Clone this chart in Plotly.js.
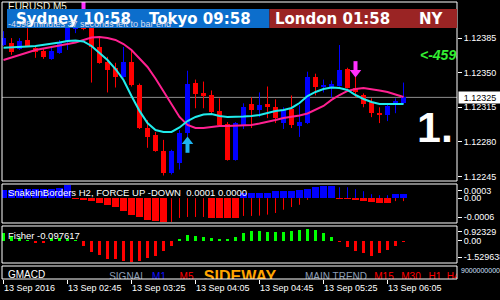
<!DOCTYPE html>
<html><head><meta charset="utf-8">
<script src="https://cdn.plot.ly/plotly-3.0.1.min.js"></script>
<style>html,body{margin:0;padding:0;background:#000;}#chart{width:500px;height:300px;}</style>
</head><body><div id="chart"></div>
<script>
// ---- data (EURUSD M5) ----
const openP  = [1.12378,1.12380,1.12374,1.12383,1.12375,1.12372,1.12364,1.12370,1.12381,1.12394,
                1.12399,1.12397,1.12376,1.12361,1.12355,1.12346,1.12361,1.12338,1.12294,1.12287,
                1.12271,1.12248,1.12259,1.12289,1.12340,1.12329,1.12327,1.12311,1.12298,1.12262,
                1.12297,1.12318,1.12312,1.12318,1.12315,1.12299,1.12313,1.12296,1.12299,1.12346,
                1.12336,1.12336,1.12337,1.12354,1.12335,1.12327,1.12320,1.12309,1.12307,1.12318,1.12319];
const highP  = [1.12392,1.12385,1.12385,1.12395,1.12376,1.12375,1.12375,1.12383,1.12408,1.12405,
                1.12403,1.12405,1.12385,1.12366,1.12360,1.12376,1.12373,1.12339,1.12302,1.12290,
                1.12282,1.12272,1.12292,1.12352,1.12343,1.12341,1.12332,1.12324,1.12300,1.12300,
                1.12319,1.12325,1.12330,1.12336,1.12323,1.12315,1.12327,1.12317,1.12351,1.12349,
                1.12343,1.12342,1.12378,1.12355,1.12348,1.12329,1.12324,1.12315,1.12319,1.12324,1.12340];
const lowP   = [1.12377,1.12368,1.12373,1.12376,1.12365,1.12364,1.12363,1.12369,1.12373,1.12390,
                1.12393,1.12340,1.12359,1.12330,1.12335,1.12345,1.12336,1.12293,1.12274,1.12270,
                1.12246,1.12247,1.12252,1.12285,1.12314,1.12314,1.12309,1.12296,1.12261,1.12261,
                1.12293,1.12294,1.12305,1.12304,1.12299,1.12293,1.12294,1.12285,1.12298,1.12327,
                1.12330,1.12325,1.12336,1.12334,1.12325,1.12315,1.12305,1.12299,1.12301,1.12309,1.12318];
const closeP = [1.12385,1.12371,1.12382,1.12377,1.12371,1.12366,1.12372,1.12380,1.12399,1.12396,
                1.12394,1.12376,1.12360,1.12353,1.12346,1.12361,1.12338,1.12294,1.12285,1.12271,
                1.12248,1.12271,1.12289,1.12339,1.12328,1.12326,1.12310,1.12297,1.12262,1.12299,
                1.12315,1.12312,1.12317,1.12315,1.12304,1.12312,1.12297,1.12300,1.12346,1.12336,
                1.12338,1.12339,1.12353,1.12335,1.12330,1.12318,1.12309,1.12307,1.12316,1.12321,1.12325];
const maFast = [1.123753,1.123755,1.123760,1.123765,1.123770,1.123780,1.123790,1.123806,1.123821,1.123826,
                1.123816,1.123770,1.123699,1.123628,1.123537,1.123426,1.123264,1.123113,1.122991,1.122920,
                1.122900,1.122900,1.122946,1.123011,1.123052,1.123077,1.123082,1.123062,1.123052,1.123052,
                1.123057,1.123062,1.123072,1.123092,1.123113,1.123123,1.123143,1.123193,1.123264,1.123305,
                1.123335,1.123350,1.123345,1.123325,1.123274,1.123234,1.123204,1.123183,1.123183,1.123183,1.123183];
const maSlow = [1.123628,1.123654,1.123679,1.123704,1.123730,1.123745,1.123760,1.123770,1.123785,1.123806,
                1.123831,1.123856,1.123861,1.123851,1.123831,1.123790,1.123730,1.123649,1.123558,1.123441,
                1.123315,1.123183,1.123052,1.122971,1.122941,1.122941,1.122951,1.122961,1.122961,1.122966,
                1.122971,1.122971,1.122986,1.123001,1.123022,1.123042,1.123052,1.123067,1.123087,1.123123,
                1.123163,1.123224,1.123274,1.123315,1.123335,1.123345,1.123335,1.123320,1.123305,1.123279,1.123254];
const snakeForce = [0.000185,0.000185,0.000208,0.000208,0.000208,0.000208,0.000208,0.000231,0.000300,-0.000023,
                -0.000046,-0.000069,-0.000115,-0.000162,-0.000208,-0.000300,-0.000392,-0.000439,-0.000508,-0.000531,
                -0.000565,0,0,0,0,0,-0.000462,-0.000462,-0.000462,-0.000462,
                0.000115,0.000115,0.000115,0.000115,0.000162,0.000162,0.000173,0.000196,0.000219,0.000254,
                0.000277,0.000289,-0.000023,-0.000023,-0.000046,-0.000069,-0.000081,-0.000115,-0.000115,0.000092,0.000092];
const snakeLine = [0,0,0,0,0,0,0,0,0,0,
                0,0,0,0,0,0,0,0,0,0,
                0,-0.000554,-0.000462,-0.000439,-0.000439,-0.000439,-0.000415,-0.000415,-0.000415,-0.000415,
                -0.000415,-0.000415,-0.000408,-0.000385,-0.000346,-0.000270,-0.000208,-0.000155,-0.000039,0,
                0,0,0.000254,0.000254,0.000208,0.000162,0.000092,0.000069,0.000069,-0.000069,-0.000069];
const fisher = [0.53,0.33,0.20,0.07,-0.13,-0.12,0.20,0.19,0.13,0.07,
                -0.33,-0.73,-0.93,-1.19,-1.21,-1.33,-1.40,-1.36,-1.16,-0.99,
                -0.66,-0.33,0.13,0.40,0.33,0.27,0.20,0.13,0.13,0.27,
                0.53,0.66,0.66,0.60,0.60,0.60,0.66,0.73,0.80,0.73,
                0.53,0.27,-0.07,-0.40,-0.66,-0.80,-0.99,-0.80,-0.60,-0.33,-0.097617];
const sellIdx = [10, 44];
const sellPrice = [1.124114, 1.123502];
const buyIdx = [23];
const buyPrice = [1.122804];
const tickIdx = [0, 8, 16, 24, 32, 40, 48];
const tickLabels = ['13 Sep 2016','13 Sep 02:45','13 Sep 03:25','13 Sep 04:05','13 Sep 04:45','13 Sep 05:25','13 Sep 06:05'];
const priceTicks = [1.12385, 1.12350, 1.12315, 1.12280, 1.12245];
const lastPrice = 1.12325;
const snakeTickPos = [0.000167, 0, -0.000447];
const snakeTickText = ['0.0003', '0.00', '-0.0006'];
const fisherTickPos = [0.617, 0, -1.082];
const fisherTickText = ['0.92329', '0.00', '-1.529638'];
const gmacdLabels = ['SIGNAL','M1','M5','SIDEWAY','MAIN TREND','M15','M30','H1','H4'];
const gmacdLabelPos = [15.5, 19.44, 22.88, 29.56, 41.56, 47.56, 50.94, 53.94, 56.2];

// ---- build ----
const N = closeP.length;
const idx = Array.from({length: N}, (_, i) => i);
const BLUE = '#0000ff', RED = '#ff0000', GREEN = '#00ff00';
const bull = idx.map(i => closeP[i] >= openP[i]);
function segs(sel, lo, hi, ax) {
  const x = [], y = [];
  idx.forEach(i => { if (sel(i)) { x.push(i, i, null); y.push(lo(i), hi(i), null); } });
  return {x, y, type: 'scatter', mode: 'lines', yaxis: ax, hoverinfo: 'skip'};
}
const traces = [];
// wicks
traces.push(Object.assign(segs(i => bull[i], i => lowP[i], i => highP[i], 'y'), {line: {color: BLUE, width: 1}}));
traces.push(Object.assign(segs(i => !bull[i], i => lowP[i], i => highP[i], 'y'), {line: {color: RED, width: 1}}));
// bodies
traces.push({type: 'bar', x: idx, base: idx.map(i => Math.min(openP[i], closeP[i])),
  y: idx.map(i => Math.max(Math.abs(closeP[i] - openP[i]), 0.000012)),
  width: 0.6, marker: {color: idx.map(i => bull[i] ? BLUE : RED), line: {width: 0}}, yaxis: 'y', hoverinfo: 'skip'});
// moving averages
traces.push({type: 'scatter', mode: 'lines', x: idx, y: maSlow, line: {color: '#ff2090', width: 2}, yaxis: 'y', hoverinfo: 'skip'});
traces.push({type: 'scatter', mode: 'lines', x: idx, y: maFast, line: {color: '#20ecec', width: 2}, yaxis: 'y', hoverinfo: 'skip'});
// signal arrows
const SH = 0.000065;
traces.push({type: 'scatter', mode: 'markers', x: sellIdx, y: sellPrice.map(p => p + SH), marker: {symbol: 'line-ns', size: 7, line: {color: '#ff30ff', width: 4}}, yaxis: 'y', hoverinfo: 'skip'});
traces.push({type: 'scatter', mode: 'markers', x: sellIdx, y: sellPrice, marker: {symbol: 'triangle-down', size: 10, color: '#ff30ff', line: {width: 0}}, yaxis: 'y', hoverinfo: 'skip'});
traces.push({type: 'scatter', mode: 'markers', x: buyIdx, y: buyPrice.map(p => p - SH), marker: {symbol: 'line-ns', size: 7, line: {color: '#1eb4f0', width: 4}}, yaxis: 'y', hoverinfo: 'skip'});
traces.push({type: 'scatter', mode: 'markers', x: buyIdx, y: buyPrice, marker: {symbol: 'triangle-up', size: 10, color: '#1eb4f0', line: {width: 0}}, yaxis: 'y', hoverinfo: 'skip'});
// texts inside main chart (clipped by the plot area)
traces.push({type: 'scatter', mode: 'text', x: [0.56], y: [1.12416], text: ['EURUSD,M5'], textposition: 'middle right',
  textfont: {family: 'Liberation Sans', size: 10, color: '#f4f0dc'}, yaxis: 'y', hoverinfo: 'skip'});
traces.push({type: 'scatter', mode: 'text', x: [51.69], y: [1.12291], text: ['1.'], textposition: 'middle right',
  textfont: {family: 'Liberation Sans', size: 43, color: '#ffffff', weight: 'bold'}, yaxis: 'y', hoverinfo: 'skip'});
traces.push({type: 'scatter', mode: 'text', x: [52.06], y: [1.12366], text: ['<-4598'], textposition: 'middle right',
  textfont: {family: 'Liberation Sans', size: 14, color: '#33ee33', weight: 'bold', style: 'italic'}, yaxis: 'y', hoverinfo: 'skip'});
// snake panel
traces.push({type: 'bar', x: idx, y: snakeForce, width: 0.88, marker: {color: snakeForce.map(v => v >= 0 ? BLUE : RED), line: {width: 0}}, yaxis: 'y2', hoverinfo: 'skip'});
traces.push(Object.assign(segs(i => snakeLine[i] > 0, i => 0, i => snakeLine[i], 'y2'), {line: {color: BLUE, width: 1}}));
traces.push(Object.assign(segs(i => snakeLine[i] < 0, i => 0, i => snakeLine[i], 'y2'), {line: {color: RED, width: 1}}));
// fisher panel
traces.push({type: 'bar', x: idx, y: fisher, width: 0.4, marker: {color: fisher.map(v => v >= 0 ? GREEN : RED), line: {width: 0}}, yaxis: 'y3', hoverinfo: 'skip'});
// gmacd panel labels (clipped at panel bottom)
const gColors = ['#8c9db4', '#1010ff', '#ff0000', '#ffa500', '#8c9db4', '#ff0000', '#ff0000', '#ff0000', '#ff0000'];
gmacdLabels.forEach((t, j) => {
  const big = t === 'SIDEWAY';
  traces.push({type: 'scatter', mode: 'text', x: [gmacdLabelPos[j]], y: [big ? -0.3 : -0.26], text: [t], textposition: 'middle center',
    textfont: {family: 'Liberation Sans', size: big ? 16 : 10, color: gColors[j], weight: big ? 'bold' : 'normal'}, yaxis: 'y4', hoverinfo: 'skip'});
});

const dMain = [0.35379, 1], dSnake = [0.20217, 0.34296], dFisher = [0.05776, 0.19134], dG = [0, 0.04693];
const tickFont = {family: 'Liberation Sans', size: 9, color: '#ffffff'};
const yBase = {side: 'right', anchor: 'x', ticks: 'outside', ticklen: 4, tickcolor: '#ffffff', tickwidth: 1,
  tickfont: tickFont, showgrid: false, zeroline: false, showline: false, fixedrange: true};
const border = d => ({type: 'rect', xref: 'paper', yref: 'paper', x0: 0, x1: 1, y0: d[0], y1: d[1], line: {color: '#ffffff', width: 1}, layer: 'above'});

const layout = {
  width: 500, height: 300,
  paper_bgcolor: '#000000', plot_bgcolor: '#000000',
  margin: {l: 2, r: 43, t: 2, b: 21, pad: 0},
  showlegend: false, hovermode: false, barmode: 'overlay', bargap: 0,
  font: {family: 'Liberation Sans', color: '#ffffff', size: 9},
  xaxis: {range: [-0.1875, 56.6875], anchor: 'y4', tickvals: tickIdx, ticktext: tickLabels, ticks: 'outside', ticklen: 4,
    tickcolor: '#ffffff', tickfont: tickFont, ticklabelposition: 'outside right', showgrid: false, zeroline: false, showline: false, fixedrange: true},
  yaxis: Object.assign({}, yBase, {domain: dMain, range: [1.122404, 1.124215], tickvals: priceTicks, tickformat: '.5f'}),
  yaxis2: Object.assign({}, yBase, {domain: dSnake, range: [-0.00058, 0.00033], tickvals: snakeTickPos, ticktext: snakeTickText}),
  yaxis3: Object.assign({}, yBase, {domain: dFisher, range: [-1.46, 0.995], tickvals: fisherTickPos, ticktext: fisherTickText}),
  yaxis4: Object.assign({}, yBase, {domain: dG, range: [-0.4, 0.6], ticks: '', showticklabels: false}),
  shapes: [
    {type: 'line', xref: 'paper', x0: 0, x1: 1, yref: 'y', y0: lastPrice, y1: lastPrice, line: {color: '#8c8c8c', width: 1}, layer: 'below'},
    border(dMain), border(dSnake), border(dFisher), border(dG),
    {type: 'rect', xref: 'paper', yref: 'paper', x0: 0.011, x1: 0.5879, y0: 0.9061, y1: 0.9747, fillcolor: '#0c6ecc', line: {width: 0}, layer: 'above'},
    {type: 'rect', xref: 'paper', yref: 'paper', x0: 0.5879, x1: 1, y0: 0.9061, y1: 0.9747, fillcolor: '#9a2424', line: {width: 0}, layer: 'above'}
  ],
  annotations: [
    {xref: 'paper', yref: 'paper', x: 0.0265, y: 0.9404, xanchor: 'left', yanchor: 'middle', showarrow: false, text: 'Sydney 10:58',
      font: {family: 'DejaVu Sans', size: 15, color: '#ffffff', weight: 'bold'}},
    {xref: 'paper', yref: 'paper', x: 0.319, y: 0.9404, xanchor: 'left', yanchor: 'middle', showarrow: false, text: 'Tokyo 09:58',
      font: {family: 'DejaVu Sans', size: 15, color: '#ffffff', weight: 'bold'}},
    {xref: 'paper', yref: 'paper', x: 0.596, y: 0.9404, xanchor: 'left', yanchor: 'middle', showarrow: false, text: 'London 01:58',
      font: {family: 'DejaVu Sans', size: 15, color: '#ffffff', weight: 'bold'}},
    {xref: 'paper', yref: 'paper', x: 0.912, y: 0.9404, xanchor: 'left', yanchor: 'middle', showarrow: false, text: 'NY',
      font: {family: 'DejaVu Sans', size: 15, color: '#ffffff', weight: 'bold'}},
    {xref: 'paper', yref: 'paper', x: 0.009, y: 0.9206, xanchor: 'left', yanchor: 'middle', showarrow: false, text: '-4598 minutes 37 seconds left to bar end',
      font: {family: 'Liberation Sans', size: 9, color: '#dcdcea'}},
    {xref: 'paper', yref: 'paper', x: 0.009, y: 0.3123, xanchor: 'left', yanchor: 'middle', showarrow: false,
      text: 'SnakeInBorders H2, FORCE UP -DOWN\u00a0 0.0001 0.0000', font: {family: 'Liberation Sans', size: 9.5, color: '#ffffff'}},
    {xref: 'paper', yref: 'paper', x: 0.009, y: 0.1588, xanchor: 'left', yanchor: 'middle', showarrow: false,
      text: 'Fisher -0.097617', font: {family: 'Liberation Sans', size: 9.5, color: '#ffffff'}},
    {xref: 'paper', yref: 'paper', x: 0.009, y: 0.0162, xanchor: 'left', yanchor: 'middle', showarrow: false,
      text: 'GMACD', font: {family: 'Liberation Sans', size: 10, color: '#ffffff'}},
    {xref: 'paper', yref: 'y', x: 1, y: lastPrice, xanchor: 'left', yanchor: 'middle', xshift: 1, showarrow: false,
      text: '1.12325', bgcolor: '#ffffff', borderpad: 0, width: 42, height: 11, font: {family: 'Liberation Sans', size: 9, color: '#000000'}},
    {xref: 'paper', yref: 'paper', x: 1, y: 0.03, xanchor: 'left', yanchor: 'middle', xshift: 2, showarrow: false,
      text: '9000000000', font: {family: 'Liberation Sans', size: 7, color: '#d0e0ff'}}
  ]
};
Plotly.newPlot('chart', traces, layout, {staticPlot: true, displayModeBar: false});
</script></body></html>
